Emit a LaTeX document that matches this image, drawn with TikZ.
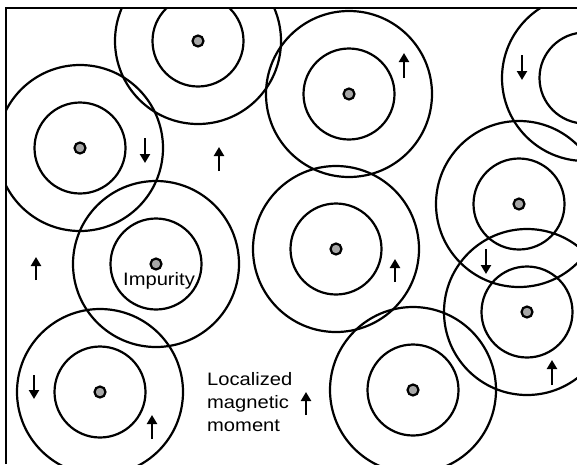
\documentclass[tikz,border=0pt]{standalone}
\usepackage{fontspec}
\newfontfamily\lab[FakeStretch=1.12]{Liberation Sans}
\usetikzlibrary{arrows.meta}
\tikzset{
  ring/.style={draw=black, line width=2.2pt},
  dotmark/.style={circle, draw=black, fill=gray!85!black!60, line width=2.2pt, minimum size=11pt, inner sep=0pt},
  spin/.style={draw=black, line width=2.2pt, -{Triangle[width=10pt,length=9pt]}},
  lbl/.style={font=\lab\fontsize{18}{22}\selectfont, inner sep=0pt}
}
\begin{document}
\begin{tikzpicture}[x=1pt,y=-1pt]
\useasboundingbox (0,0) rectangle (577,464);
\begin{scope}
\clip (6,8) rectangle (577,464);
\foreach \n/\cx/\cy in {a/198/41, b/80/148, c/349/94, d/585/78, e/519/204, f/156/264, g/336/249, h/527/312, i/100/392, j/413/390}{
  \draw[ring] (\cx,\cy) circle[radius=83];
  \draw[ring] (\cx,\cy) circle[radius=45.5];
  \node[dotmark] (\n) at (\cx,\cy) {};
}
\end{scope}
\draw[line width=2.8pt] (6,464) -- (6,8) -- (577,8);
% up spins
\foreach \x/\yt/\yb in {219/147/171, 404/53/78, 36/257/280, 395/259/282, 152/415/439, 552/360/385, 306/392/415}{
  \draw[spin] (\x,\yb) -- (\x,\yt);
}
% down spins
\foreach \x/\yt/\yb in {145/138/163, 522/55/80, 34/375/399, 486/249/274}{
  \draw[spin] (\x,\yt) -- (\x,\yb);
}
\node[lbl, anchor=base] (imp) at (159,285) {Impurity};
\node[lbl, anchor=base west] (l1) at (207,385) {Localized};
\node[lbl, anchor=base west] (l2) at (207,408) {magnetic};
\node[lbl, anchor=base west] (l3) at (207,431) {moment};
\end{tikzpicture}
\end{document}
